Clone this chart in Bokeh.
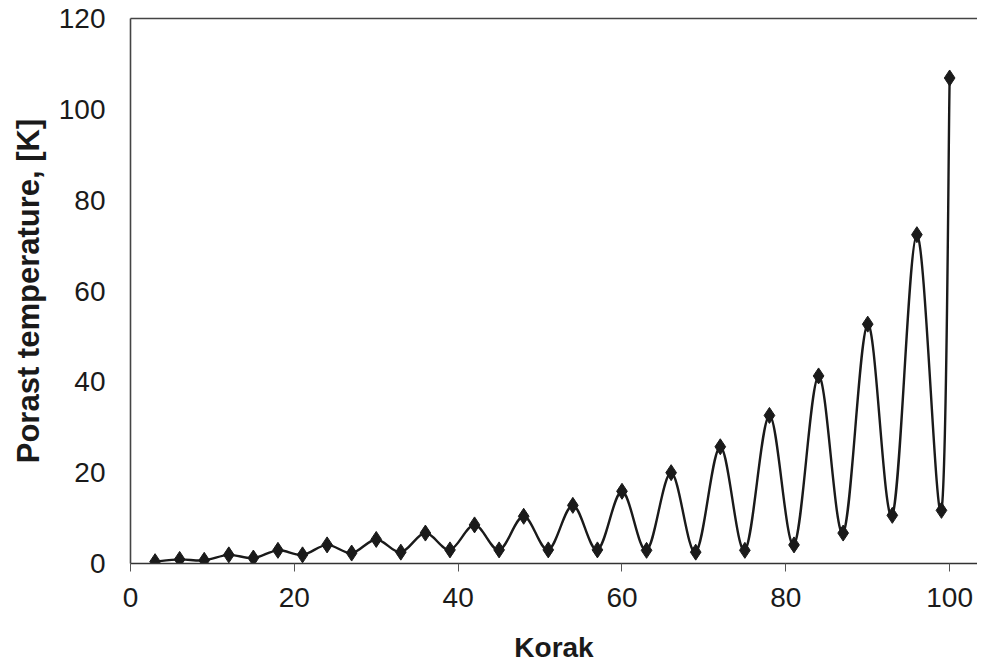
from bokeh.plotting import figure
from bokeh.models import Range1d, LinearAxis, FixedTicker, ColumnDataSource
from bokeh.embed import file_html
from bokeh.resources import INLINE

# Data
korak = [3, 6, 9, 12, 15, 18, 21, 24, 27, 30, 33, 36, 39, 42, 45, 48, 51,
         54, 57, 60, 63, 66, 69, 72, 75, 78, 81, 84, 87, 90, 93, 96, 99, 100]
porast = [0.4, 0.9, 0.7, 1.9, 1.2, 2.9, 1.9, 4.1, 2.3, 5.3, 2.5, 6.7, 3.0,
          8.5, 3.0, 10.4, 3.0, 12.8, 3.0, 15.9, 2.9, 20.0, 2.5, 25.7, 2.9,
          32.6, 4.1, 41.3, 6.7, 52.7, 10.6, 72.4, 11.7, 106.9]
x_ticks = [0, 20, 40, 60, 80, 100]
y_ticks = [0, 20, 40, 60, 80, 100, 120]

# Smoothed line (Excel-like Catmull-Rom Bezier segments) built from the data
n = len(korak)
seg = dict(x0=[], y0=[], x1=[], y1=[], cx0=[], cy0=[], cx1=[], cy1=[])
for i in range(n - 1):
    p0 = i - 1 if i > 0 else i
    p3 = i + 2 if i + 2 < n else i + 1
    seg["x0"].append(korak[i]); seg["y0"].append(porast[i])
    seg["x1"].append(korak[i + 1]); seg["y1"].append(porast[i + 1])
    seg["cx0"].append(korak[i] + (korak[i + 1] - korak[p0]) / 6)
    seg["cy0"].append(porast[i] + (porast[i + 1] - porast[p0]) / 6)
    seg["cx1"].append(korak[i + 1] - (korak[p3] - korak[i]) / 6)
    seg["cy1"].append(porast[i + 1] - (porast[p3] - porast[i]) / 6)

p = figure(width=977, height=665, output_backend="svg", toolbar_location=None,
           x_range=Range1d(0, 103.4), y_range=Range1d(0, 120),
           min_border_left=130, min_border_top=18, min_border_right=0,
           min_border_bottom=88)
p.outline_line_color = None
p.xgrid.visible = False
p.ygrid.visible = False
p.background_fill_color = "white"
p.border_fill_color = "white"

p.bezier(x0="x0", y0="y0", x1="x1", y1="y1", cx0="cx0", cy0="cy0",
         cx1="cx1", cy1="cy1", source=ColumnDataSource(seg),
         line_color="#1a1a1a", line_width=2.4)
p.scatter(korak, porast, marker="diamond", size=16, fill_color="#1a1a1a",
          line_color="#1a1a1a")

font = "Liberation Sans"
xa = p.xaxis[0]
xa.ticker = FixedTicker(ticks=x_ticks)
xa.axis_label = "Korak"
xa.axis_label_text_font = font
xa.axis_label_text_font_style = "bold"
xa.axis_label_text_font_size = "28px"
xa.axis_label_text_color = "#1a1a1a"
xa.axis_label_standoff = 22
xa.major_label_text_font = font
xa.major_label_text_font_size = "28px"
xa.major_label_text_color = "#1a1a1a"
xa.major_label_standoff = 16
xa.major_tick_out = 8
xa.major_tick_in = 0
xa.minor_tick_line_color = None
xa.axis_line_color = "#333333"
xa.axis_line_width = 1.6
xa.major_tick_line_color = "#555555"

ya = p.yaxis[0]
ya.ticker = FixedTicker(ticks=y_ticks)
ya.axis_label = "Porast temperature, [K]"
ya.axis_label_text_font = font
ya.axis_label_text_font_style = "bold"
ya.axis_label_text_font_size = "31px"
ya.axis_label_text_color = "#1a1a1a"
ya.axis_label_standoff = 10
ya.major_label_text_font = font
ya.major_label_text_font_size = "28px"
ya.major_label_text_color = "#1a1a1a"
ya.major_label_standoff = 25
ya.major_tick_out = 0
ya.major_tick_in = 0
ya.major_tick_line_color = None
ya.minor_tick_line_color = None
ya.axis_line_color = "#444444"
ya.axis_line_width = 1.6

top = LinearAxis(ticker=FixedTicker(ticks=[]), major_tick_line_color=None,
                 minor_tick_line_color=None, major_label_standoff=0,
                 major_tick_out=0, major_tick_in=0,
                 axis_line_color="#444444", axis_line_width=1.6)
p.add_layout(top, "above")

open("out.html", "w").write(file_html(p, INLINE))
